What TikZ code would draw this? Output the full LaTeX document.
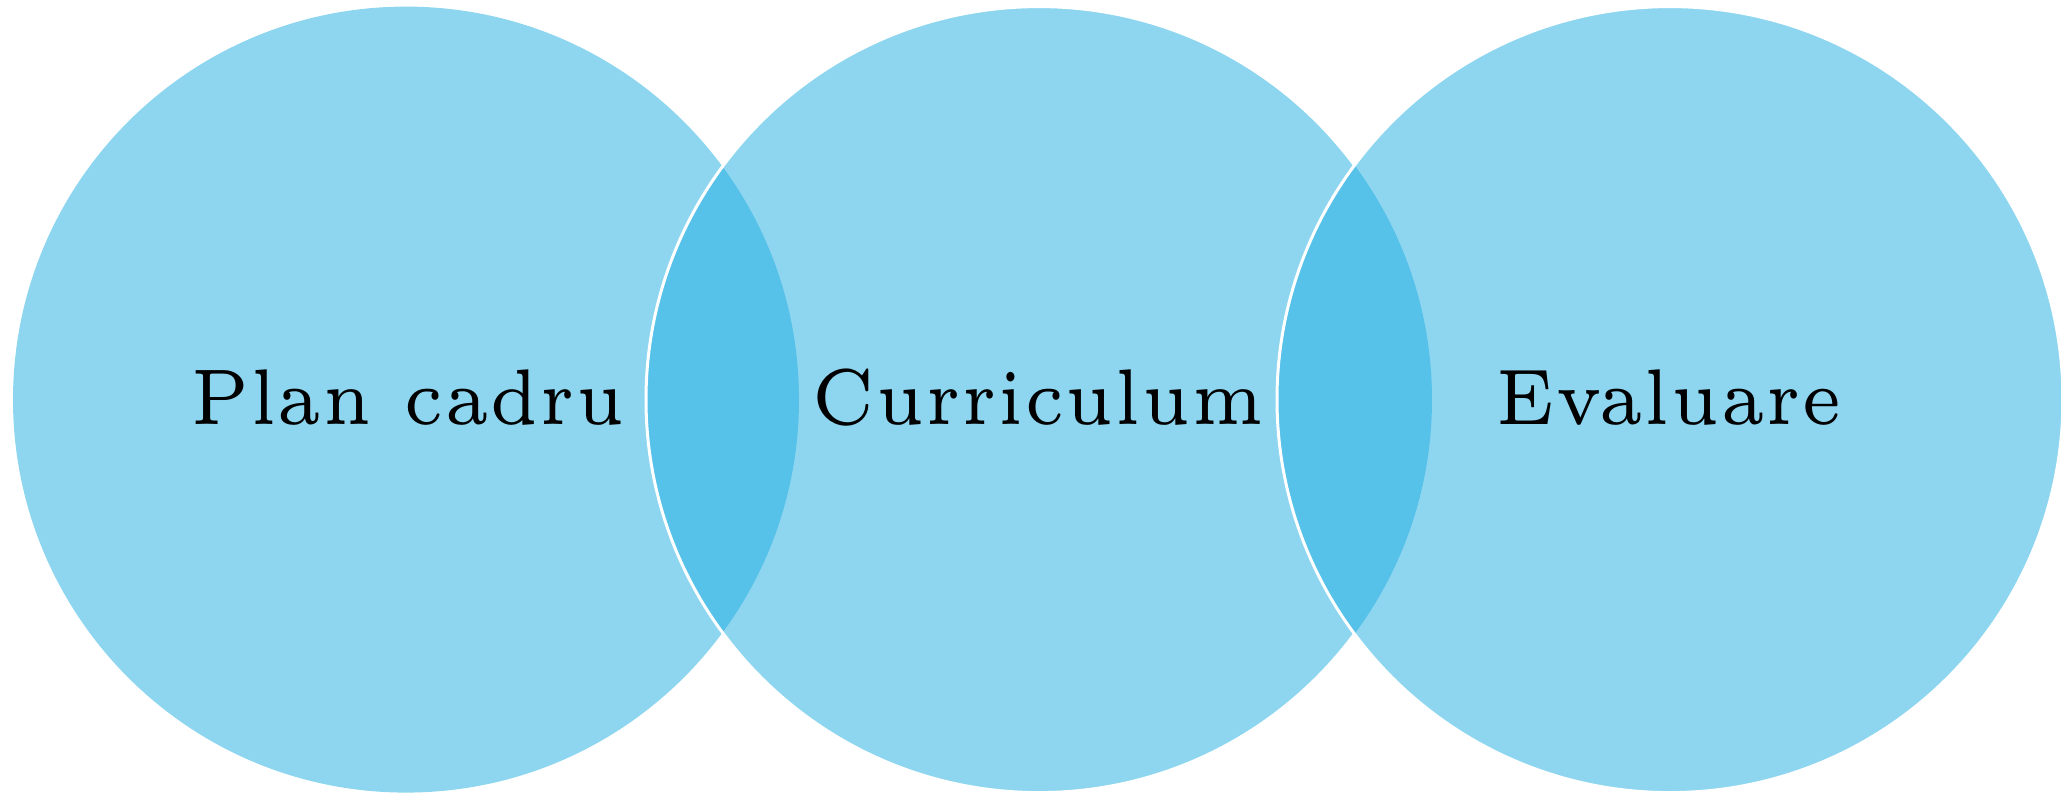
\documentclass[tikz,border=0pt]{standalone}
\definecolor{vennlight}{RGB}{142,214,240}
\definecolor{venndark}{RGB}{86,193,233}
\newsavebox\vennbox
\newcommand\venntext[1]{%
  \sbox\vennbox{\fontsize{5}{6}\selectfont Curriculum}%
  \pgfmathsetmacro\vennsx{129.0/\wd\vennbox}%
  \scalebox{\vennsx}[4.49]{\fontsize{5}{6}\selectfont #1}}
\begin{document}
\begin{tikzpicture}[x=0.1mm,y=0.1mm,
  vfill/.style={fill=vennlight},
  vlens/.style={fill=venndark},
  vstroke/.style={draw=white, line width=0.85pt},
  vlabel/.style={anchor=base, inner sep=0pt}]
\useasboundingbox (0,0) rectangle (2061,793);
\def\R{393}
\coordinate (c1) at (406,393.4);
\coordinate (c2) at (1039,393.4);
\coordinate (c3) at (1670,393.4);
% circle 1
\fill[vfill] (c1) circle[radius=\R];
% circle 2
\fill[vfill] (c2) circle[radius=\R];
\begin{scope}
  \clip (c1) circle[radius=\R];
  \fill[vlens] (c2) circle[radius=\R];
\end{scope}
\draw[vstroke] (c2) circle[radius=\R];
% circle 3
\fill[vfill] (c3) circle[radius=\R];
\begin{scope}
  \clip (c2) circle[radius=\R];
  \fill[vlens] (c3) circle[radius=\R];
\end{scope}
\draw[vstroke] (c3) circle[radius=\R];
% labels
\node[vlabel] (t1) at (408,368) {\venntext{Plan cadru}};
\node[vlabel] (t2) at (1038,368) {\venntext{Curriculum}};
\node[vlabel] (t3) at (1669,368) {\venntext{Evaluare}};
\end{tikzpicture}
\end{document}
